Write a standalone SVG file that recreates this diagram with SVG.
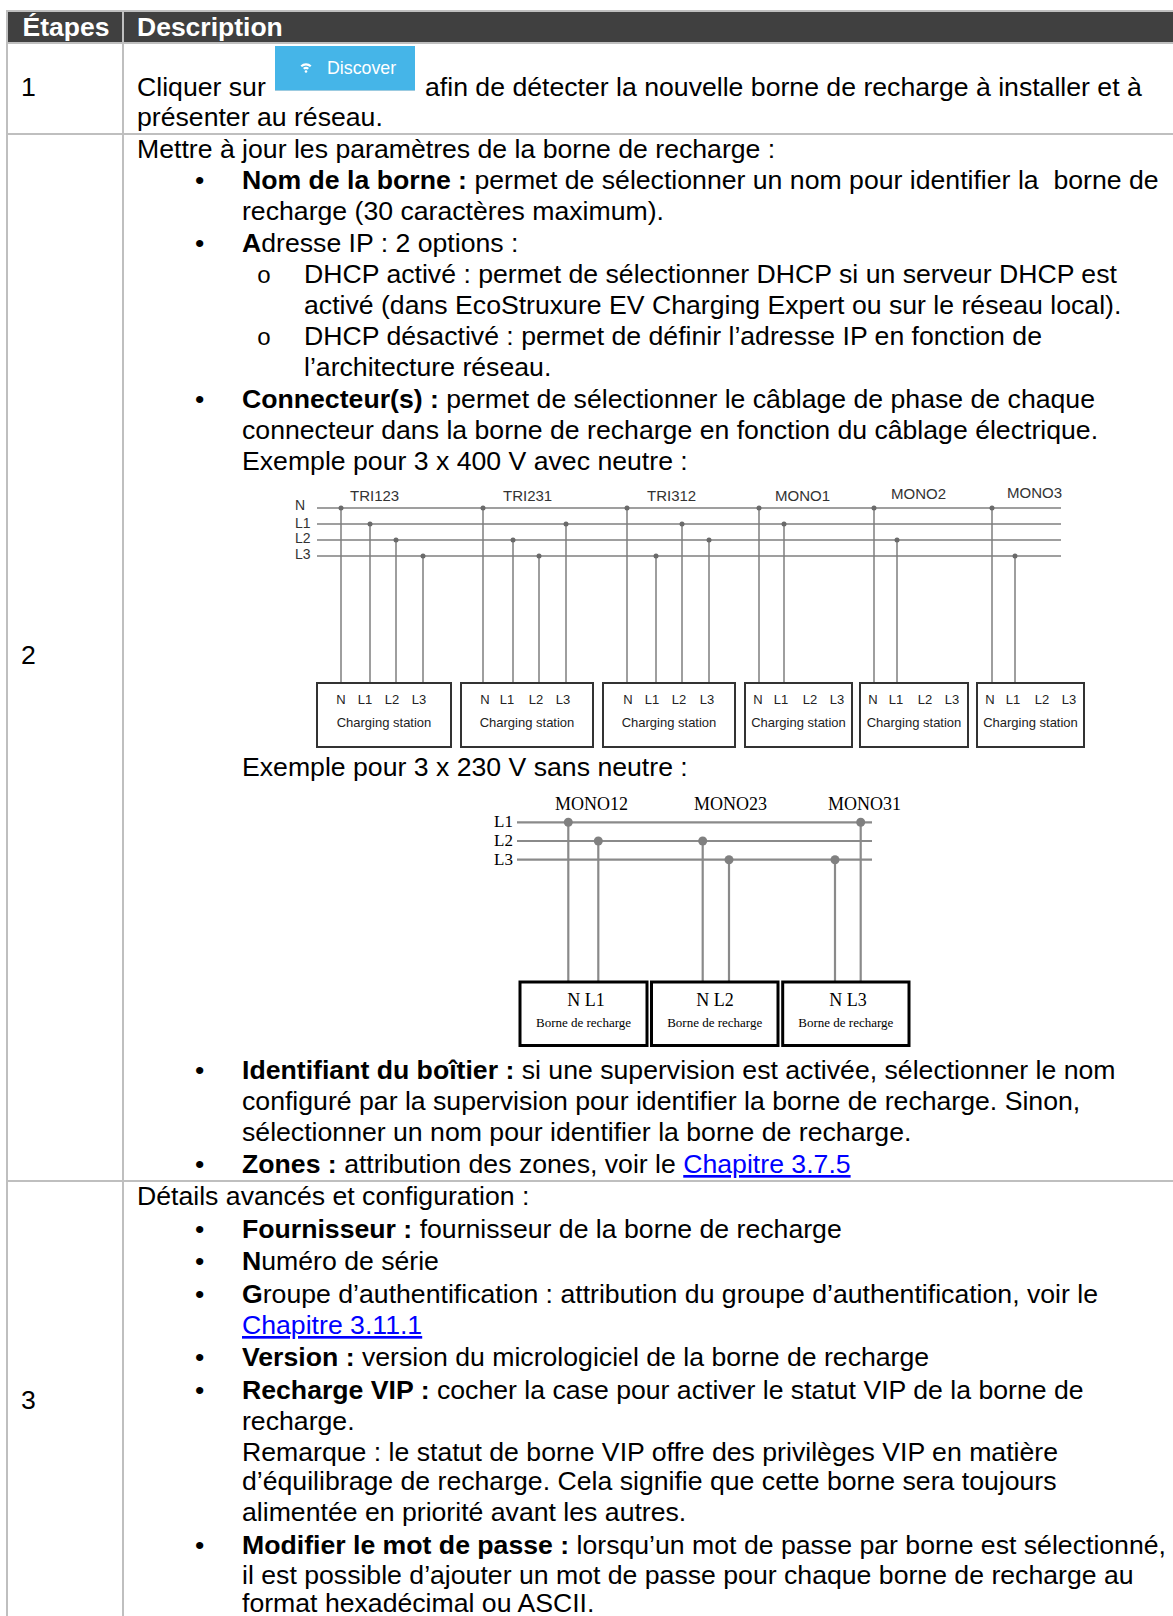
<svg xmlns="http://www.w3.org/2000/svg" width="1173" height="1616" viewBox="0 0 1173 1616">
<style>
.t{font-family:"Liberation Sans",Arial,sans-serif;font-size:26.65px;fill:#000}
.b{font-weight:bold}
.h{font-family:"Liberation Sans",Arial,sans-serif;font-size:26.5px;font-weight:bold;fill:#fff}
.lnk{fill:#0000ff;text-decoration:underline}
.grid{stroke:#bfbfbf;stroke-width:2;fill:none}
.sub{font-family:"Liberation Mono","Courier New",monospace;font-size:24px;fill:#000}
.bus{stroke:#7f7f7f;stroke-width:1.5;fill:none}
.dot{fill:#6a6a6a}
.box{fill:#fff;stroke:#333;stroke-width:2}
.d1{font-family:"Liberation Sans",Arial,sans-serif;font-size:14px;fill:#333}
.d1t{font-family:"Liberation Sans",Arial,sans-serif;font-size:15px;fill:#333}
.d1s{font-family:"Liberation Sans",Arial,sans-serif;font-size:13px;fill:#222;text-anchor:middle}
.bus2{stroke:#8a8a8a;stroke-width:2.2;fill:none}
.dot2{fill:#808080}
.box2{fill:#fff;stroke:#000;stroke-width:3}
.sf{font-family:"Liberation Serif","Times New Roman",serif;fill:#000}
</style>

<g id="table">
  <rect x="7" y="11" width="1166" height="32" fill="#404040"/>
  <line class="grid" x1="7" y1="11" x2="1173" y2="11"/>
  <line class="grid" x1="7" y1="43" x2="1173" y2="43"/>
  <line class="grid" x1="7" y1="134" x2="1173" y2="134"/>
  <line class="grid" x1="7" y1="1181" x2="1173" y2="1181"/>
  <line class="grid" x1="7" y1="10" x2="7" y2="1616"/>
  <line class="grid" x1="123" y1="10" x2="123" y2="1616"/>
  <text class="h" x="22.5" y="35.5">Étapes</text>
  <text class="h" x="137" y="35.5">Description</text>
</g>

<g id="row1">
  <text class="t" x="21" y="96">1</text>
  <text class="t" x="137" y="96">Cliquer sur</text>
  <g id="discover-button">
    <rect x="275" y="46" width="140" height="45" fill="#45b5e8"/>
    <line x1="275" y1="90.5" x2="415" y2="90.5" stroke="#9ccbe0" stroke-width="1"/>
    <path d="M300.5 65.5 A8 8 0 0 1 311.5 65.5 L310 67 A6 6 0 0 0 302 67 Z" fill="#fff"/>
    <path d="M303 68 A4.5 4.5 0 0 1 309 68 L307.5 69.5 A2.5 2.5 0 0 0 304.5 69.5 Z" fill="#fff"/>
    <circle cx="306" cy="71.5" r="1.3" fill="#fff"/>
    <text x="327" y="74" font-family="Liberation Sans, Arial, sans-serif" font-size="17.8" fill="#fff">Discover</text>
  </g>
  <text class="t" x="425" y="96">afin de détecter la nouvelle borne de recharge à installer et à</text>
  <text class="t" x="137" y="126">présenter au réseau.</text>
</g>

<g id="row2">
  <text class="t" x="21" y="664">2</text>
  <text class="t" x="137" y="158">Mettre à jour les paramètres de la borne de recharge :</text>
  <text class="t" x="195" y="189.2">•</text>
  <text class="t" x="242" y="189.2"><tspan class="b">Nom de la borne :</tspan> permet de sélectionner un nom pour identifier la&#160; borne de</text>
  <text class="t" x="242" y="220.4">recharge (30 caractères maximum).</text>
  <text class="t" x="195" y="251.6">•</text>
  <text class="t" x="242" y="251.6"><tspan class="b">A</tspan>dresse IP : 2 options :</text>
  <text class="sub" x="264" y="282.8" text-anchor="middle">o</text>
  <text class="t" x="304" y="282.8">DHCP activé : permet de sélectionner DHCP si un serveur DHCP est</text>
  <text class="t" x="304" y="314">activé (dans EcoStruxure EV Charging Expert ou sur le réseau local).</text>
  <text class="sub" x="264" y="345.2" text-anchor="middle">o</text>
  <text class="t" x="304" y="345.2">DHCP désactivé : permet de définir l’adresse IP en fonction de</text>
  <text class="t" x="304" y="376.4">l’architecture réseau.</text>
  <text class="t" x="195" y="407.6">•</text>
  <text class="t" x="242" y="407.6"><tspan class="b">Connecteur(s) :</tspan> permet de sélectionner le câblage de phase de chaque</text>
  <text class="t" x="242" y="438.8">connecteur dans la borne de recharge en fonction du câblage électrique.</text>
  <text class="t" x="242" y="470">Exemple pour 3 x 400 V avec neutre :</text>
  <text class="t" x="242" y="775.6">Exemple pour 3 x 230 V sans neutre :</text>
  <text class="t" x="195" y="1079.4">•</text>
  <text class="t" x="242" y="1079.4"><tspan class="b">Identifiant du boîtier :</tspan> si une supervision est activée, sélectionner le nom</text>
  <text class="t" x="242" y="1110.3">configuré par la supervision pour identifier la borne de recharge. Sinon,</text>
  <text class="t" x="242" y="1141.2">sélectionner un nom pour identifier la borne de recharge.</text>
  <text class="t" x="195" y="1173">•</text>
  <text class="t" x="242" y="1173"><tspan class="b">Zones :</tspan> attribution des zones, voir le <tspan class="lnk">Chapitre 3.7.5</tspan></text>
</g>

<g id="diagram-400V">
  <g id="d1-labels">
    <text class="d1" x="295" y="510">N</text>
    <text class="d1" x="295" y="527.5">L1</text>
    <text class="d1" x="295" y="543">L2</text>
    <text class="d1" x="295" y="559">L3</text>
    <text class="d1t" x="350" y="501">TRI123</text>
    <text class="d1t" x="503" y="501">TRI231</text>
    <text class="d1t" x="647" y="501">TRI312</text>
    <text class="d1t" x="775" y="501">MONO1</text>
    <text class="d1t" x="891" y="499">MONO2</text>
    <text class="d1t" x="1007" y="498">MONO3</text>
  </g>
  <g id="d1-connectors">
    <line class="bus" x1="317" y1="508" x2="1061" y2="508"/>
    <line class="bus" x1="317" y1="524" x2="1061" y2="524"/>
    <line class="bus" x1="317" y1="540" x2="1061" y2="540"/>
    <line class="bus" x1="317" y1="556" x2="1061" y2="556"/>
    <path class="bus" d="M341 508V683M370 524V683M396 540V683M423 556V683"/>
    <path class="bus" d="M483 508V683M513 540V683M539 556V683M566 524V683"/>
    <path class="bus" d="M627 508V683M656 556V683M682 524V683M709 540V683"/>
    <path class="bus" d="M759 508V683M784 524V683"/>
    <path class="bus" d="M874 508V683M897 540V683"/>
    <path class="bus" d="M992 508V683M1015 556V683"/>
    <g class="dot">
      <circle cx="341" cy="508" r="2.5"/><circle cx="370" cy="524" r="2.5"/><circle cx="396" cy="540" r="2.5"/><circle cx="423" cy="556" r="2.5"/>
      <circle cx="483" cy="508" r="2.5"/><circle cx="513" cy="540" r="2.5"/><circle cx="539" cy="556" r="2.5"/><circle cx="566" cy="524" r="2.5"/>
      <circle cx="627" cy="508" r="2.5"/><circle cx="656" cy="556" r="2.5"/><circle cx="682" cy="524" r="2.5"/><circle cx="709" cy="540" r="2.5"/>
      <circle cx="759" cy="508" r="2.5"/><circle cx="784" cy="524" r="2.5"/>
      <circle cx="874" cy="508" r="2.5"/><circle cx="897" cy="540" r="2.5"/>
      <circle cx="992" cy="508" r="2.5"/><circle cx="1015" cy="556" r="2.5"/>
    </g>
  </g>
  <g id="station-tri123">
    <rect class="box" x="317" y="683" width="134" height="64"/>
    <text class="d1s" x="341" y="704">N</text><text class="d1s" x="365" y="704">L1</text><text class="d1s" x="392" y="704">L2</text><text class="d1s" x="419" y="704">L3</text>
    <text class="d1s" x="384" y="726.5">Charging station</text>
  </g>
  <g id="station-tri231">
    <rect class="box" x="461" y="683" width="132" height="64"/>
    <text class="d1s" x="485" y="704">N</text><text class="d1s" x="507" y="704">L1</text><text class="d1s" x="536" y="704">L2</text><text class="d1s" x="563" y="704">L3</text>
    <text class="d1s" x="527" y="726.5">Charging station</text>
  </g>
  <g id="station-tri312">
    <rect class="box" x="603" y="683" width="132" height="64"/>
    <text class="d1s" x="628" y="704">N</text><text class="d1s" x="652" y="704">L1</text><text class="d1s" x="679" y="704">L2</text><text class="d1s" x="707" y="704">L3</text>
    <text class="d1s" x="669" y="726.5">Charging station</text>
  </g>
  <g id="station-mono1">
    <rect class="box" x="745" y="683" width="107" height="64"/>
    <text class="d1s" x="758" y="704">N</text><text class="d1s" x="781" y="704">L1</text><text class="d1s" x="810" y="704">L2</text><text class="d1s" x="837" y="704">L3</text>
    <text class="d1s" x="798.5" y="726.5">Charging station</text>
  </g>
  <g id="station-mono2">
    <rect class="box" x="860" y="683" width="108" height="64"/>
    <text class="d1s" x="873" y="704">N</text><text class="d1s" x="896" y="704">L1</text><text class="d1s" x="925" y="704">L2</text><text class="d1s" x="952" y="704">L3</text>
    <text class="d1s" x="914" y="726.5">Charging station</text>
  </g>
  <g id="station-mono3">
    <rect class="box" x="977" y="683" width="107" height="64"/>
    <text class="d1s" x="990" y="704">N</text><text class="d1s" x="1013" y="704">L1</text><text class="d1s" x="1042" y="704">L2</text><text class="d1s" x="1069" y="704">L3</text>
    <text class="d1s" x="1030.5" y="726.5">Charging station</text>
  </g>
</g>

<g id="diagram-230V">
  <g id="d2-labels">
    <text class="sf" x="513" y="827" font-size="17" text-anchor="end">L1</text>
    <text class="sf" x="513" y="845.5" font-size="17" text-anchor="end">L2</text>
    <text class="sf" x="513" y="864.5" font-size="17" text-anchor="end">L3</text>
    <text class="sf" x="555" y="810" font-size="18">MONO12</text>
    <text class="sf" x="694" y="810" font-size="18">MONO23</text>
    <text class="sf" x="828" y="810" font-size="18">MONO31</text>
  </g>
  <g id="d2-connectors">
    <line class="bus2" x1="517" y1="822.3" x2="872" y2="822.3"/>
    <line class="bus2" x1="517" y1="841" x2="872" y2="841"/>
    <line class="bus2" x1="517" y1="859.7" x2="872" y2="859.7"/>
    <path class="bus2" d="M568.3 822.3V982M598.3 841V982M702.7 841V982M729 859.7V982M835 859.7V982M860.7 822.3V982"/>
    <g class="dot2">
      <circle cx="568.3" cy="822.3" r="4.5"/><circle cx="598.3" cy="841" r="4.5"/>
      <circle cx="702.7" cy="841" r="4.5"/><circle cx="729" cy="859.7" r="4.5"/>
      <circle cx="835" cy="859.7" r="4.5"/><circle cx="860.7" cy="822.3" r="4.5"/>
    </g>
  </g>
  <g id="borne-mono12">
    <rect class="box2" x="520" y="982" width="127" height="63.5"/>
    <text class="sf" x="586" y="1006" font-size="18" text-anchor="middle">N L1</text>
    <text class="sf" x="583.5" y="1027" font-size="13" text-anchor="middle">Borne de recharge</text>
  </g>
  <g id="borne-mono23">
    <rect class="box2" x="651.5" y="982" width="126.5" height="63.5"/>
    <text class="sf" x="715" y="1006" font-size="18" text-anchor="middle">N L2</text>
    <text class="sf" x="714.7" y="1027" font-size="13" text-anchor="middle">Borne de recharge</text>
  </g>
  <g id="borne-mono31">
    <rect class="box2" x="782.7" y="982" width="126.3" height="63.5"/>
    <text class="sf" x="848" y="1006" font-size="18" text-anchor="middle">N L3</text>
    <text class="sf" x="845.8" y="1027" font-size="13" text-anchor="middle">Borne de recharge</text>
  </g>
</g>

<g id="row3">
  <text class="t" x="21" y="1409">3</text>
  <text class="t" x="137" y="1205">Détails avancés et configuration :</text>
  <text class="t" x="195" y="1238">•</text>
  <text class="t" x="242" y="1238"><tspan class="b">Fournisseur :</tspan> fournisseur de la borne de recharge</text>
  <text class="t" x="195" y="1270">•</text>
  <text class="t" x="242" y="1270"><tspan class="b">N</tspan>uméro de série</text>
  <text class="t" x="195" y="1303">•</text>
  <text class="t" x="242" y="1303"><tspan class="b">G</tspan>roupe d’authentification : attribution du groupe d’authentification, voir le</text>
  <text class="t lnk" x="242" y="1334">Chapitre 3.11.1</text>
  <text class="t" x="195" y="1366">•</text>
  <text class="t" x="242" y="1366"><tspan class="b">Version :</tspan> version du micrologiciel de la borne de recharge</text>
  <text class="t" x="195" y="1399">•</text>
  <text class="t" x="242" y="1399"><tspan class="b">Recharge VIP :</tspan> cocher la case pour activer le statut VIP de la borne de</text>
  <text class="t" x="242" y="1430">recharge.</text>
  <text class="t" x="242" y="1460.5">Remarque : le statut de borne VIP offre des privilèges VIP en matière</text>
  <text class="t" x="242" y="1490">d’équilibrage de recharge. Cela signifie que cette borne sera toujours</text>
  <text class="t" x="242" y="1521">alimentée en priorité avant les autres.</text>
  <text class="t" x="195" y="1554">•</text>
  <text class="t" x="242" y="1554"><tspan class="b">Modifier le mot de passe :</tspan> lorsqu’un mot de passe par borne est sélectionné,</text>
  <text class="t" x="242" y="1584">il est possible d’ajouter un mot de passe pour chaque borne de recharge au</text>
  <text class="t" x="242" y="1612">format hexadécimal ou ASCII.</text>
</g>
</svg>
